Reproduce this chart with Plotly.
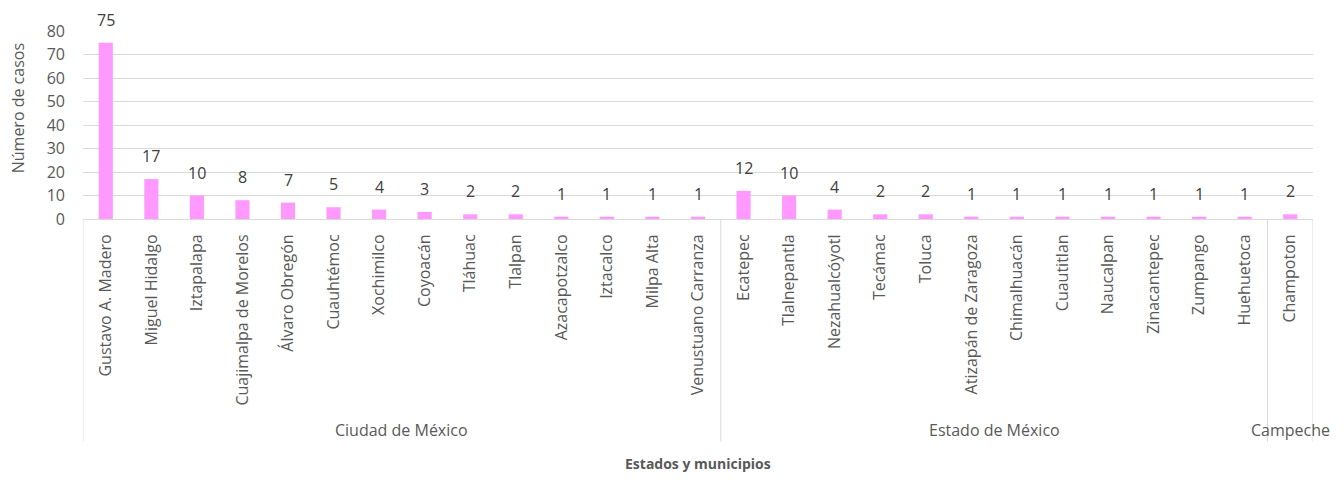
import plotly.graph_objects as go

municipios = [
    "Gustavo A. Madero", "Miguel Hidalgo", "Iztapalapa", "Cuajimalpa de Morelos",
    "Álvaro Obregón", "Cuauhtémoc", "Xochimilco", "Coyoacán", "Tláhuac", "Tlalpan",
    "Azacapotzalco", "Iztacalco", "Milpa Alta", "Venustuano Carranza",
    "Ecatepec", "Tlalnepantla", "Nezahualcóyotl", "Tecámac", "Toluca",
    "Atizapán de Zaragoza", "Chimalhuacán", "Cuautitlan", "Naucalpan",
    "Zinacantepec", "Zumpango", "Huehuetoca",
    "Champoton",
]
estados = ["Ciudad de México"] * 14 + ["Estado de México"] * 12 + ["Campeche"]
casos = [75, 17, 10, 8, 7, 5, 4, 3, 2, 2, 1, 1, 1, 1,
         12, 10, 4, 2, 2, 1, 1, 1, 1, 1, 1, 1,
         2]

FONT = "Open Sans"
TXT = "#595959"
GRID = "#d9d9d9"

# page body has an 8px margin; figure placed at (8, 8)
OFF = 8
W, H = 1344 - 2 * OFF, 485 - 2 * OFF
L, R, T, B = 82.5, 1313, 28, 219   # plot area in window pixels
PLOT_H = B - T
PLOT_W = R - L

fig = go.Figure()
fig.add_trace(go.Bar(
    x=municipios, y=casos,
    marker=dict(color="#ff99ff", line=dict(width=0)),
    hoverinfo="x+y",
))

annotations = []
for m, v in zip(municipios, casos):
    annotations.append(dict(
        x=m, y=v, xref="x", yref="y", text=str(v), showarrow=False,
        yanchor="bottom", yshift=10, font=dict(family=FONT, size=16, color="#404040"),
    ))

shapes = []
groups = []
for i, e in enumerate(estados):
    if not groups or groups[-1][0] != e:
        groups.append([e, i, i])
    else:
        groups[-1][2] = i

y_bottom = -(445 - B) / PLOT_H
for e, a, b in groups:
    shapes.append(dict(type="line", xref="x", yref="paper", x0=a - 0.5, x1=a - 0.5,
                       y0=0, y1=y_bottom, line=dict(color=GRID, width=1)))
    annotations.append(dict(
        x=(a + b) / 2, y=-(433 - B) / PLOT_H, xref="x", yref="paper", text=e,
        showarrow=False, yanchor="middle", xanchor="center",
        font=dict(family=FONT, size=16, color=TXT),
    ))
last = len(municipios) - 1
shapes.append(dict(type="line", xref="x", yref="paper", x0=last + 0.5, x1=last + 0.5,
                   y0=0, y1=y_bottom, line=dict(color=GRID, width=1)))

annotations.append(dict(
    x=0.5, y=-(467 - B) / PLOT_H, xref="paper", yref="paper",
    text="<b>Estados y municipios</b>", showarrow=False, yanchor="middle",
    borderpad=0,
    font=dict(family=FONT, size=14, color=TXT),
))
annotations.append(dict(
    x=-(L - 17) / PLOT_W, y=(B - 107) / PLOT_H, xref="paper", yref="paper",
    text="Número de casos", textangle=-90, showarrow=False,
    xanchor="center", yanchor="middle",
    font=dict(family=FONT, size=16, color=TXT),
))

fig.update_layout(
    width=W, height=H,
    margin=dict(l=L - OFF, r=(OFF + W) - R, t=T - OFF, b=(OFF + H) - B),
    paper_bgcolor="white", plot_bgcolor="white",
    showlegend=False,
    bargap=0.69,
    font=dict(family=FONT, color=TXT),
    xaxis=dict(
        type="category", categoryorder="array", categoryarray=municipios,
        tickangle=-90, tickfont=dict(family=FONT, size=16, color=TXT),
        showgrid=False, showline=True, linecolor=GRID, linewidth=1,
        ticks="", ticklabelstandoff=8, range=[-0.5, len(municipios) - 0.5],
    ),
    yaxis=dict(
        range=[0, 80], dtick=10, tick0=0,
        showgrid=True, gridcolor=GRID, gridwidth=1,
        zeroline=False, showline=False, ticks="",
        tickfont=dict(family=FONT, size=16, color=TXT),
        ticklabelstandoff=17,
    ),
    shapes=shapes,
    annotations=annotations,
)

fig.write_html("out.html")
